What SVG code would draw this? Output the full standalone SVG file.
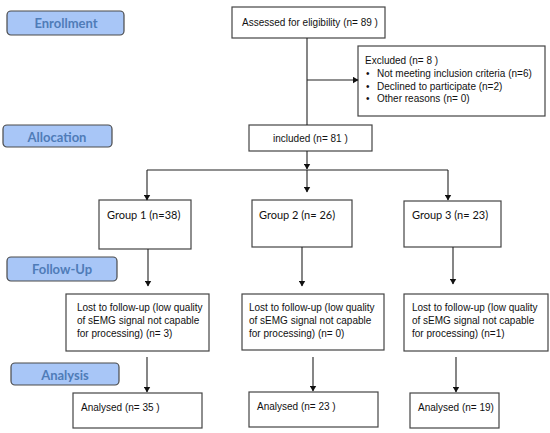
<svg xmlns="http://www.w3.org/2000/svg" width="550" height="433" viewBox="0 0 550 433">
<defs>
<marker id="ah" markerWidth="6" markerHeight="7" refX="5.5" refY="3.5" orient="auto" markerUnits="userSpaceOnUse">
<path d="M0,0 L6,3.5 L0,7 Z" fill="#111"/>
</marker>
</defs>
<style>
.lbl rect{fill:#a8c6f7;stroke:#4a4a4a;stroke-width:1.2}
.lbl text{font-family:Lato,"Open Sans","Liberation Sans",sans-serif;font-weight:bold;font-size:13px;fill:#4f7cb8;text-anchor:middle}
.box rect{fill:#fff;stroke:#444;stroke-width:1.2}
.box text{font-family:"Liberation Sans",Arial,sans-serif;font-size:10px;fill:#111}
.box text.c{font-family:Lato,"Liberation Sans",sans-serif;font-size:11px}
.conn line{stroke:#222;stroke-width:1.1}
.conn line.a{marker-end:url(#ah)}
</style>

<g id="lbl-enrollment" class="lbl"><rect x="7" y="11" width="117" height="24" rx="4"/><text x="66" y="28">Enrollment</text></g>
<g id="lbl-allocation" class="lbl"><rect x="3" y="125" width="109" height="22" rx="4"/><text x="57" y="141.5">Allocation</text></g>
<g id="lbl-followup" class="lbl"><rect x="7" y="257" width="110" height="24" rx="4"/><text x="62" y="274">Follow-Up</text></g>
<g id="lbl-analysis" class="lbl"><rect x="11" y="363" width="108" height="22" rx="4"/><text x="65" y="379.5">Analysis</text></g>

<g id="assessed" class="box"><rect x="232" y="7" width="153" height="31"/><text x="242" y="25.5">Assessed for eligibility (n= 89 )</text></g>
<g id="excluded" class="box"><rect x="358" y="46" width="187" height="70"/>
<text x="365" y="64">Excluded  (n= 8 )</text>
<text x="366" y="77">•</text><text x="377" y="77">Not meeting inclusion criteria (n=6)</text>
<text x="366" y="89.5">•</text><text x="377" y="89.5">Declined to participate (n=2)</text>
<text x="366" y="102">•</text><text x="377" y="102">Other reasons (n= 0)</text>
</g>
<g id="included" class="box"><rect x="249" y="125" width="123" height="26"/><text x="273" y="141.5">included (n= 81 )</text></g>

<g id="group1" class="box"><rect x="99" y="200" width="92" height="49"/><text class="c" x="107" y="219">Group 1 (n=38)</text></g>
<g id="group2" class="box"><rect x="252" y="200" width="100" height="47"/><text class="c" x="259" y="219">Group 2  (n= 26)</text></g>
<g id="group3" class="box"><rect x="404" y="201" width="97" height="46"/><text class="c" x="412" y="219">Group 3 (n= 23)</text></g>

<g id="lost1" class="box"><rect x="66" y="294" width="143" height="57"/>
<text x="77" y="310.5">Lost to follow-up (low quality</text><text x="77" y="323.5">of sEMG signal not capable</text><text x="77" y="336.5">for processing) (n= 3)</text></g>
<g id="lost2" class="box"><rect x="242" y="294" width="142" height="56"/>
<text x="249" y="310.5">Lost to follow-up (low quality</text><text x="249" y="323.5">of sEMG signal not capable</text><text x="249" y="336.5">for processing) (n= 0)</text></g>
<g id="lost3" class="box"><rect x="404" y="294" width="144" height="57"/>
<text x="412" y="310.5">Lost to follow-up (low quality</text><text x="412" y="323.5">of sEMG signal not capable</text><text x="412" y="336.5">for processing) (n=1)</text></g>

<g id="analysed1" class="box"><rect x="73" y="393" width="129" height="35"/><text x="81" y="410.5">Analysed  (n= 35 )</text></g>
<g id="analysed2" class="box"><rect x="249" y="392" width="129" height="35"/><text x="257" y="410">Analysed  (n= 23 )</text></g>
<g id="analysed3" class="box"><rect x="410" y="393" width="89" height="35"/><text x="418" y="410.5">Analysed  (n= 19)</text></g>

<g id="connectors" class="conn">
<line x1="307" y1="38" x2="307" y2="125"/>
<line class="a" x1="307" y1="80" x2="358" y2="80"/>
<line class="a" x1="307" y1="151" x2="307" y2="169"/>
<line x1="147" y1="170" x2="448" y2="170"/>
<line class="a" x1="147" y1="170" x2="147" y2="200"/>
<line class="a" x1="307" y1="170" x2="307" y2="192"/>
<line class="a" x1="448" y1="170" x2="448" y2="200"/>
<line class="a" x1="148" y1="249" x2="148" y2="286"/>
<line class="a" x1="302" y1="247" x2="302" y2="286"/>
<line class="a" x1="453" y1="247" x2="453" y2="284"/>
<line class="a" x1="147" y1="357" x2="147" y2="392"/>
<line class="a" x1="313" y1="357" x2="313" y2="391"/>
<line class="a" x1="456" y1="357" x2="456" y2="392"/>
</g>
</svg>
